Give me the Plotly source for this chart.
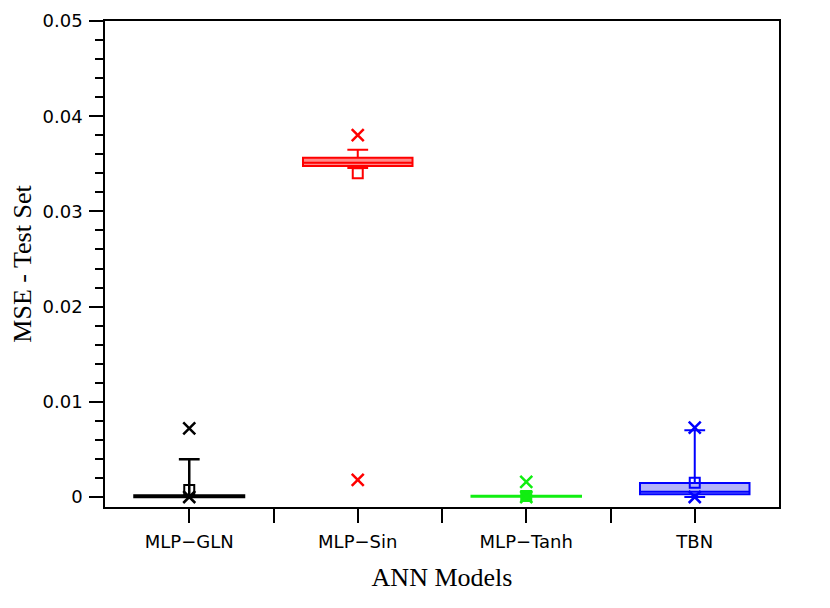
import plotly.graph_objects as go

# box statistics (MSE on the test set)
models = ['MLP−GLN', 'MLP−Sin', 'MLP−Tanh', 'TBN']
q1 = [0.00001, 0.03477, 0.00003, 0.00028]
median = [0.00005, 0.03512, 0.00007, 0.00056]
q3 = [0.00015, 0.03564, 0.00013, 0.00147]
lower_whisker = [0.0, 0.03455, 0.00002, 0.0]
upper_whisker = [0.00396, 0.03647, 0.00014, 0.0070]
means = [0.00074, 0.0340, 0.0001, 0.0015]
mins = [0.0, 0.0018, 0.0, 0.0]
maxs = [0.0072, 0.0380, 0.0016, 0.0073]

line_colors = ['#000000', '#ff0000', '#11ee11', '#0000ff']
fill_colors = ['#000000', '#ff8a8a', '#11ee11', '#b4b4f8']
mean_symbols = ['square-open', 'square-open', 'square', 'square-open']
y_ticks = [0, 0.01, 0.02, 0.03, 0.04, 0.05]
y_tick_text = ['0', '0.01', '0.02', '0.03', '0.04', '0.05']

fig = go.Figure()
for i, name in enumerate(models):
    fig.add_trace(go.Box(
        x=[i], q1=[q1[i]], median=[median[i]], q3=[q3[i]],
        lowerfence=[lower_whisker[i]], upperfence=[upper_whisker[i]],
        width=0.65, whiskerwidth=0.19,
        line=dict(color=line_colors[i], width=2.5 if i == 0 else 2),
        fillcolor=fill_colors[i],
        boxpoints=False, showlegend=False, name=name,
    ))
    # mean marker
    fig.add_trace(go.Scatter(
        x=[i], y=[means[i]], mode='markers', showlegend=False,
        marker=dict(symbol=mean_symbols[i], size=10, color=line_colors[i],
                    line=dict(color=line_colors[i], width=2)),
    ))
    # min / max markers
    fig.add_trace(go.Scatter(
        x=[i, i], y=[mins[i], maxs[i]], mode='markers', showlegend=False,
        marker=dict(symbol='x-thin', size=12,
                    line=dict(color=line_colors[i], width=2.5)),
    ))

# page body adds an 8px offset, so margins are shifted by that amount
fig.update_layout(
    width=830, height=608,
    margin=dict(l=97, r=59, t=13, b=109),
    plot_bgcolor='white', paper_bgcolor='white',
    font=dict(family='DejaVu Sans', size=18, color='black'),
)
fig.update_xaxes(
    range=[-0.5, 3.5], automargin=False,
    tickmode='array', tickvals=list(range(len(models))), ticktext=models,
    ticks='outside', ticklen=14, tickwidth=1.5, tickcolor='black',
    ticklabelstandoff=4,
    minor=dict(tickmode='array', tickvals=[0.5, 1.5, 2.5], ticks='outside',
               ticklen=14, tickwidth=1.5, tickcolor='black'),
    showline=True, linecolor='black', linewidth=1.5, mirror=True,
    showgrid=False, zeroline=False,
    title=dict(text='ANN Models', standoff=16,
               font=dict(family='Liberation Serif', size=26)),
)
fig.update_yaxes(
    range=[-0.00105, 0.05], automargin=False,
    tickmode='array', tickvals=y_ticks, ticktext=y_tick_text,
    ticks='outside', ticklen=14, tickwidth=1.5, tickcolor='black',
    ticklabelstandoff=3,
    minor=dict(tick0=0, dtick=0.002, ticks='outside', ticklen=8,
               tickwidth=1.5, tickcolor='black'),
    showline=True, linecolor='black', linewidth=1.5, mirror=True,
    showgrid=False, zeroline=False,
    title=dict(text='MSE - Test Set', standoff=7,
               font=dict(family='Liberation Serif', size=26)),
)

fig.write_html('out.html')
